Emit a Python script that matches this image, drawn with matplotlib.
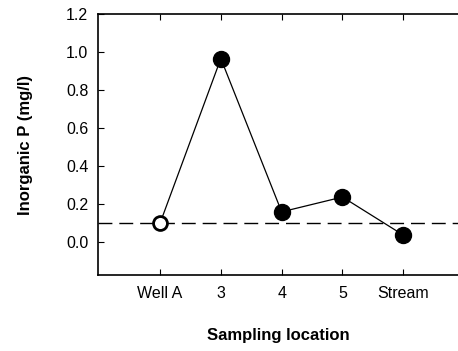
import matplotlib
matplotlib.use("Agg")
import matplotlib.pyplot as plt

plt.rcParams['font.family'] = ['Liberation Sans', 'DejaVu Sans']

categories = ["Well A", "3", "4", "5", "Stream"]
values = [0.10, 0.966, 0.16, 0.238, 0.038]
reference_level = 0.10
yticks = [0.0, 0.2, 0.4, 0.6, 0.8, 1.0, 1.2]

fig = plt.figure(figsize=(4.58, 3.51), dpi=100)
ax = fig.add_axes([0.214, 0.2165, 0.786, 0.7435])

xs = list(range(1, len(categories) + 1))
ax.axhline(reference_level, color='black', lw=1.0, dashes=(10, 5), zorder=1)
ax.plot(xs, values, color='black', lw=0.9, zorder=2)
ax.plot(xs[0], values[0], 'o', ms=10, mfc='white', mec='black', mew=2, zorder=3)
ax.plot(xs[1:], values[1:], 'o', ms=11.5, mfc='black', mec='black', zorder=3)

ax.set_xlim(-0.02, 5.9)
ax.set_ylim(-0.172, 1.2)
ax.set_xticks(xs)
ax.set_xticklabels(categories)
ax.set_yticks(yticks)
ax.set_yticklabels([f"{v:.1f}" for v in yticks])
ax.tick_params(direction='in', top=True, length=4, width=0.8, labelsize=11.5, pad=7)
ax.tick_params(axis='x', pad=8)
ax.spines['right'].set_visible(False)
for s in ['left', 'top', 'bottom']:
    ax.spines[s].set_linewidth(1.2)

ax.set_ylabel("Inorganic P (mg/l)", fontsize=12, fontweight='bold', labelpad=24)
ax.set_xlabel("Sampling location", fontsize=12, fontweight='bold', labelpad=19)

fig.savefig("out.png", dpi=100)
